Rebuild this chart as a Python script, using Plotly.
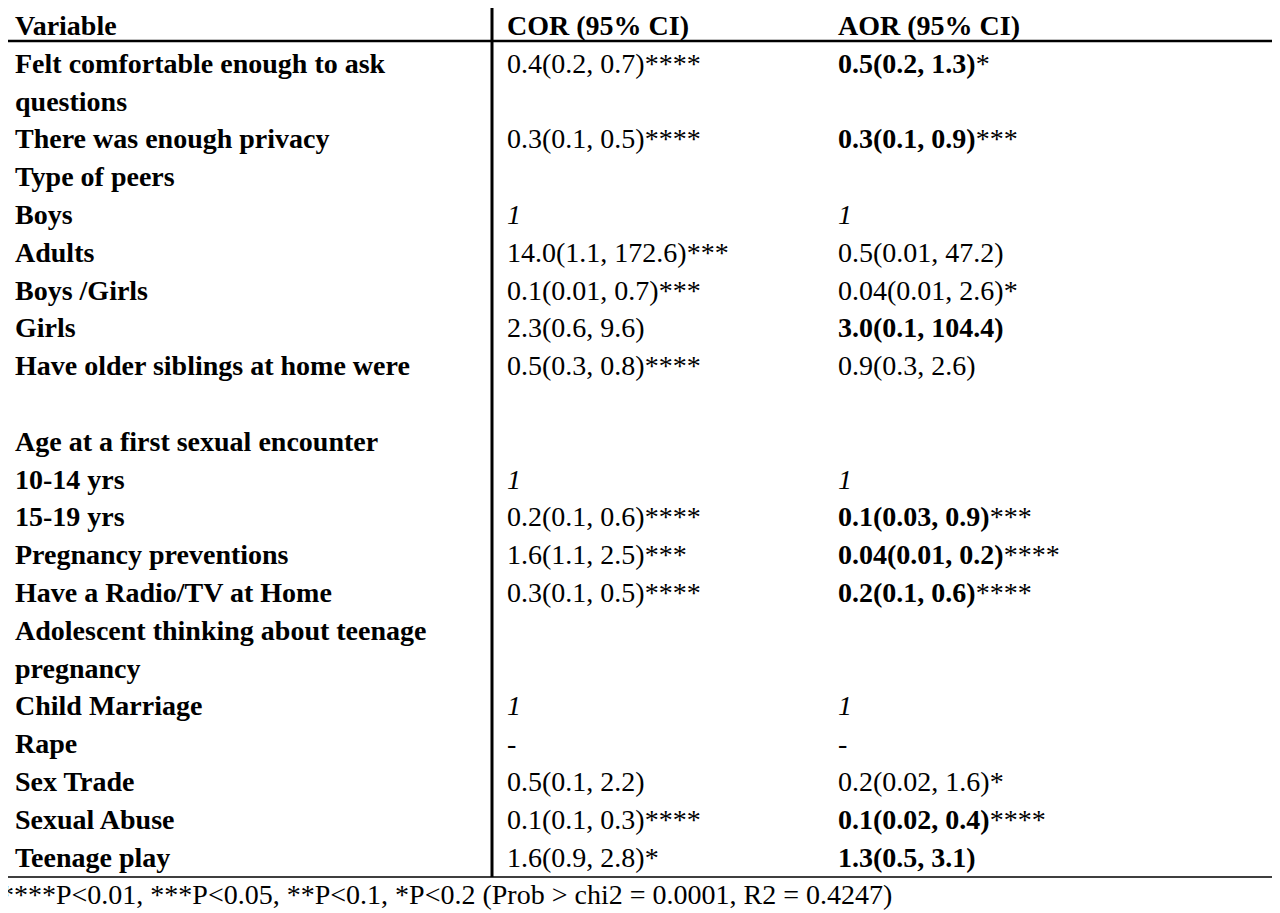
import plotly.graph_objects as go

variables = ["<b>Variable</b>",
 "<b>Felt comfortable enough to ask</b>", "<b>questions</b>", "<b>There was enough privacy</b>",
 "<b>Type of peers</b>", "<b>Boys</b>", "<b>Adults</b>", "<b>Boys /Girls</b>", "<b>Girls</b>",
 "<b>Have older siblings at home were</b>", "", "<b>Age at a first sexual encounter</b>",
 "<b>10-14 yrs</b>", "<b>15-19 yrs</b>", "<b>Pregnancy preventions</b>", "<b>Have a Radio/TV at Home</b>",
 "<b>Adolescent thinking about teenage</b>", "<b>pregnancy</b>", "<b>Child Marriage</b>", "<b>Rape</b>",
 "<b>Sex Trade</b>", "<b>Sexual Abuse</b>", "<b>Teenage play</b>"]
cor = ["<b>COR (95% CI)</b>",
 "0.4(0.2, 0.7)****", "", "0.3(0.1, 0.5)****", "", "<i>1</i>", "14.0(1.1, 172.6)***",
 "0.1(0.01, 0.7)***", "2.3(0.6, 9.6)", "0.5(0.3, 0.8)****", "", "", "<i>1</i>",
 "0.2(0.1, 0.6)****", "1.6(1.1, 2.5)***", "0.3(0.1, 0.5)****", "", "", "<i>1</i>", "-",
 "0.5(0.1, 2.2)", "0.1(0.1, 0.3)****", "1.6(0.9, 2.8)*"]
aor = ["<b>AOR (95% CI)</b>",
 "<b>0.5(0.2, 1.3)</b>*", "", "<b>0.3(0.1, 0.9)</b>***", "", "<i>1</i>", "0.5(0.01, 47.2)",
 "0.04(0.01, 2.6)*", "<b>3.0(0.1, 104.4)</b>", "0.9(0.3, 2.6)", "", "", "<i>1</i>",
 "<b>0.1(0.03, 0.9)</b>***", "<b>0.04(0.01, 0.2)</b>****", "<b>0.2(0.1, 0.6)</b>****", "", "",
 "<i>1</i>", "-", "0.2(0.02, 1.6)*", "<b>0.1(0.02, 0.4)</b>****", "<b>1.3(0.5, 3.1)</b>"]
footnote = "****P<0.01, ***P<0.05, **P<0.1, *P<0.2 (Prob > chi2 = 0.0001, R2 = 0.4247)"

pitch = 37.8
rows = list(range(len(variables)))
font = dict(family="Liberation Serif, Times New Roman, serif", size=28, color="black")

fig = go.Figure()
for xpos, col in [(7, variables), (499, cor), (830, aor)]:
    fig.add_trace(go.Scatter(x=[xpos]*len(col), y=rows, text=col, mode="text",
                             textposition="middle right", textfont=font,
                             hoverinfo="skip", showlegend=False))
fig.add_trace(go.Scatter(x=[-8], y=[len(variables)], text=[footnote], mode="text",
                         textposition="middle right", textfont=font,
                         hoverinfo="skip", showlegend=False))

def py(p):  # pixel y -> data y
    return (p - 20) / pitch

line = dict(color="black", width=1.5)
fig.add_shape(type="rect", x0=-7, x1=1284, y0=py(-5), y1=py(869), line=line)
fig.add_shape(type="line", x0=-7, x1=1284, y0=py(33), y1=py(33), line=dict(color="black", width=2.5))
fig.add_shape(type="line", x0=484, x1=484, y0=py(-5), y1=py(869), line=dict(color="black", width=3))

fig.update_xaxes(range=[0, 1280], visible=False, fixedrange=True)
fig.update_yaxes(range=[py(913), py(0)], visible=False, fixedrange=True)
fig.update_layout(width=1280, height=913, margin=dict(l=0, r=0, t=0, b=0),
                  plot_bgcolor="white", paper_bgcolor="white")
fig.write_html("out.html")
